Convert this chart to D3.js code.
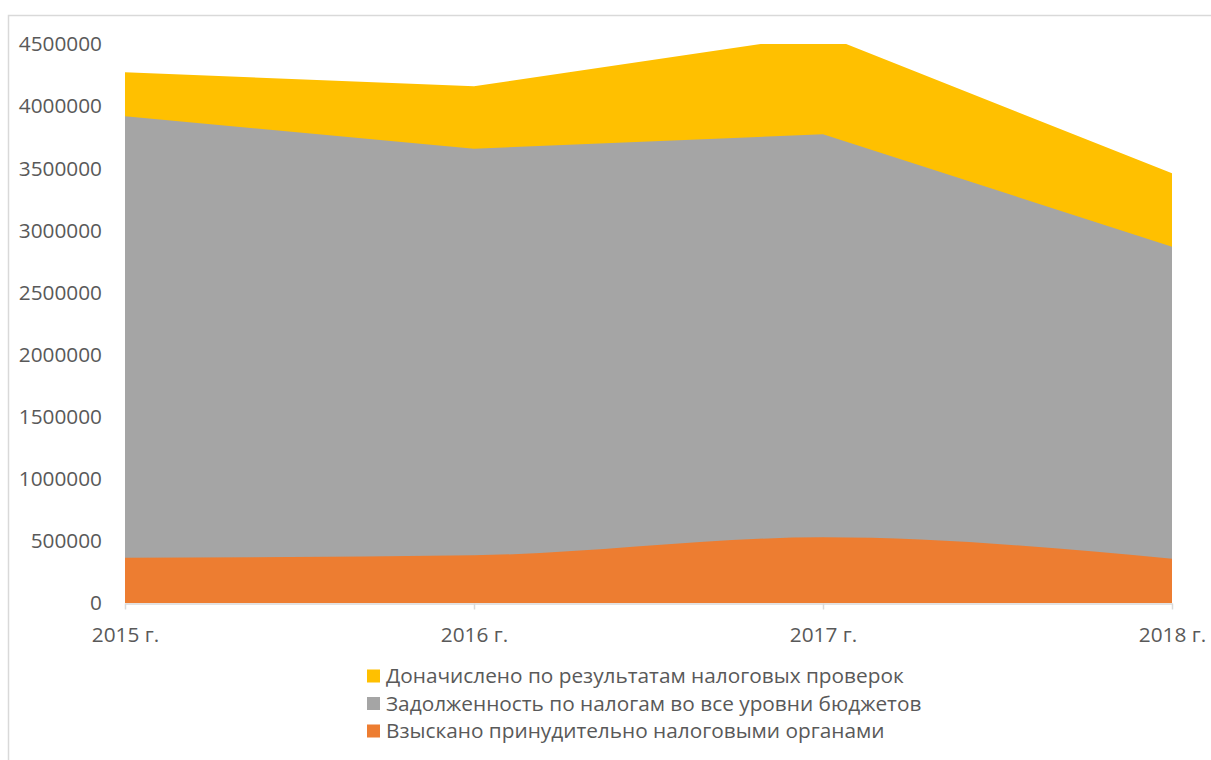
<!DOCTYPE html>
<html>
<head>
<meta charset="utf-8">
<script src="https://cdn.jsdelivr.net/npm/d3@7"></script>
<style>
  body { margin: 0; background: #fff; }
  text { font-family: "Open Sans", sans-serif; fill: #595959; }
</style>
</head>
<body>
<div id="chart"></div>
<script>
// data //
const years = ["2015 г.", "2016 г.", "2017 г.", "2018 г."];
const vzyskano = [365000, 384000, 529000, 357000];        // Взыскано принудительно налоговыми органами
const zadolzhennost = [3553000, 3273000, 3244000, 2511000]; // Задолженность по налогам во все уровни бюджетов
const donachisleno = [354000, 503000, 801000, 591000];    // Доначислено по результатам налоговых проверок
const yTicks = [0, 500000, 1000000, 1500000, 2000000, 2500000, 3000000, 3500000, 4000000, 4500000];
const seriesNames = [
  "Взыскано принудительно налоговыми органами",
  "Задолженность по налогам во все уровни бюджетов",
  "Доначислено по результатам налоговых проверок"
];
const seriesColors = ["#ED7D31", "#A5A5A5", "#FFC000"];

// set dimensions //
const W = 1211, H = 760;
const plot = { left: 125, right: 1172, top: 44, bottom: 603 };
const fontSize = "20.8px";

const svg = d3.select("#chart").append("svg")
  .attr("width", W)
  .attr("height", H);

// chart border (only top/left visible in the picture)
svg.append("rect")
  .attr("x", 8.5).attr("y", 15.5)
  .attr("width", W + 20).attr("height", H + 20)
  .attr("fill", "none")
  .attr("stroke", "#d9d9d9")
  .attr("stroke-width", 1.5);

const x = d3.scalePoint()
  .domain(years)
  .range([plot.left, plot.right]);

const y = d3.scaleLinear()
  .domain([0, 4500000])
  .range([plot.bottom, plot.top]);

// stack the three series
const table = years.map((yr, i) => ({
  year: yr, s0: vzyskano[i], s1: zadolzhennost[i], s2: donachisleno[i]
}));
const stacked = d3.stack().keys(["s0", "s1", "s2"])(table);

svg.append("clipPath").attr("id", "plotclip")
  .append("rect")
  .attr("x", plot.left).attr("y", plot.top)
  .attr("width", plot.right - plot.left)
  .attr("height", plot.bottom - plot.top);

const areaG = svg.append("g").attr("clip-path", "url(#plotclip)");

// draw from the top layer down, each from the baseline to its cumulative top
for (let k = stacked.length - 1; k >= 0; k--) {
  const area = d3.area()
    .x(d => x(d.data.year))
    .y0(y(0))
    .y1(d => y(d[1]))
    .curve(k === 0 ? d3.curveMonotoneX : d3.curveLinear);
  areaG.append("path")
    .datum(stacked[k])
    .attr("fill", seriesColors[k])
    .attr("d", area);
}

// X axis
const xAxis = svg.append("g")
  .attr("transform", `translate(0,${plot.bottom + 0.5})`)
  .call(d3.axisBottom(x).tickSize(6).tickSizeOuter(0).tickPadding(18));
xAxis.select(".domain").attr("stroke", "#d9d9d9").attr("stroke-width", 1.5);
xAxis.selectAll(".tick line").attr("stroke", "#d9d9d9").attr("stroke-width", 1.5);
xAxis.selectAll(".tick text")
  .style("font-size", fontSize)
  .attr("fill", "#595959")
  .style("font-family", "'Open Sans', sans-serif");

// Y axis labels (no line, no ticks)
svg.append("g").selectAll("text")
  .data(yTicks)
  .join("text")
  .attr("x", 102)
  .attr("y", d => y(d))
  .attr("dy", "0.35em")
  .attr("text-anchor", "end")
  .style("font-size", fontSize)
  .text(d => d);

// legend
const legendRows = [2, 1, 0];
const legend = svg.append("g");
legendRows.forEach((k, i) => {
  const cy = 676 + i * 27.5;
  legend.append("rect")
    .attr("x", 367).attr("y", cy - 6.5)
    .attr("width", 13).attr("height", 13)
    .attr("fill", seriesColors[k]);
  legend.append("text")
    .attr("x", 386).attr("y", cy)
    .attr("dy", "0.35em")
    .style("font-size", fontSize)
    .text(seriesNames[k]);
});
</script>
</body>
</html>
